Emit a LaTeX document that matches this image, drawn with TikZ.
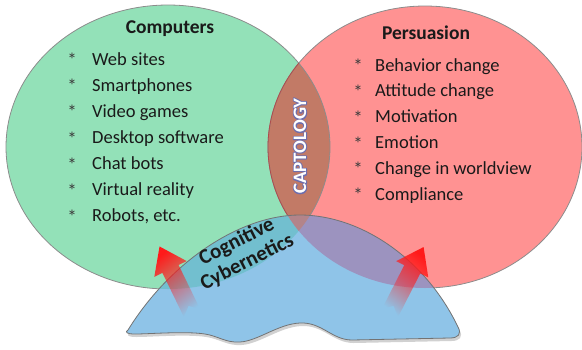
\documentclass[tikz,border=0pt]{standalone}
\usepackage{fontspec}
\setmainfont{Carlito}
\usetikzlibrary{fadings}
\definecolor{cgreen}{HTML}{93E1B8}
\definecolor{cred}{HTML}{FF9292}
\definecolor{clens}{HTML}{C27A66}
\definecolor{cblue}{HTML}{8FC4E8}
\definecolor{cteal}{HTML}{72BFCF}
\definecolor{cpurp}{HTML}{9C93BF}
\definecolor{ctext}{HTML}{1A1A1A}
\definecolor{carrow}{HTML}{FF1A1A}
\newcommand\blobpath{(128,330) .. controls (170,262) and (240,215) .. (300,215)
  .. controls (360,215) and (425,258) .. (458,327)
  .. controls (462,334) and (458,338) .. (450,338) -- (352,340)
  .. controls (332,340) and (322,322) .. (300,323)
  .. controls (278,324) and (258,341) .. (240,342)
  .. controls (226,343) and (218,336) .. (205,334)
  .. controls (185,331) and (150,334) .. (135,334)
  .. controls (126,334) and (125,332) .. (128,330) -- cycle}
\newcommand\greenpath{(168,147) ellipse [x radius=162, y radius=142]}
\newcommand\redpath{(425,147) ellipse [x radius=157, y radius=141]}
\newcommand\arrowpath{(0,-9) -- (49,-9) -- (49,-18) -- (74,0) -- (49,18) -- (49,9) -- (0,9) -- (8,0) -- cycle}
\newcommand\outlinedword[1]{\rlap{\special{pdf:literal direct 0.43 0.43 0.68 RG 1.8 w 1 j 2 Tr}#1\special{pdf:literal direct 0 Tr}}#1}
\begin{document}
\begin{tikzpicture}[x=1pt,y=-1pt,
  item/.style={anchor=base west, font=\fontsize{18.5}{20}\selectfont, text=ctext, inner sep=0pt},
  star/.style={font=\fontsize{19}{19}\selectfont, text=ctext!85, inner sep=0pt},
  title/.style={anchor=base, font=\bfseries\fontsize{19.5}{21}\selectfont, text=ctext, inner sep=0pt},
  cyb/.style={font=\bfseries\fontsize{21}{23}\selectfont, text=ctext, inner sep=0pt, align=center},
  capt/.style={font=\bfseries\fontsize{19}{20}\selectfont, inner sep=0pt, rotate=90},
  edge/.style={draw=black!45, line width=0.8pt}]
\useasboundingbox (0,0) rectangle (582,349);
% circles
\fill[cgreen] \greenpath;
\fill[cred] \redpath;
\begin{scope}
  \clip \greenpath;
  \fill[clens] \redpath;
\end{scope}
\draw[edge] \greenpath;
\draw[edge] \redpath;
\begin{scope}
  \clip \greenpath;
  \draw[draw=black!45!red!70, line width=0.8pt] \redpath;
\end{scope}
% blob
\fill[black, opacity=0.18] [shift={(1.5,3)}] \blobpath;
\fill[cblue] \blobpath;
\begin{scope}
  \clip \blobpath;
  \fill[cteal] \greenpath;
  \fill[cpurp] \redpath;
  \begin{scope}
    \clip \greenpath;
    \fill[clens!60!cpurp] \redpath;
  \end{scope}
\end{scope}
\draw[edge, draw=black!55] \blobpath;
% titles
\node[title] (tcomp) at (170,33) {Computers};
\node[title] (tpers) at (426,39) {Persuasion};
% lists
\foreach \t [count=\i from 0] in {Web sites, Smartphones, Video games, Desktop software, Chat bots, Virtual reality, {Robots, etc.}} {
  \node[star] (ls\i) at (72,{65+26.1*\i-5}) {*};
  \node[item] (lt\i) at (92,{65+26.1*\i}) {\t};
}
\foreach \t [count=\i from 0] in {Behavior change, Attitude change, Motivation, Emotion, Change in worldview, Compliance} {
  \node[star] (rs\i) at (358,{71+25.8*\i-5}) {*};
  \node[item] (rt\i) at (375,{71+25.8*\i}) {\t};
}
% captology
\node[capt, text=white] (capt) at (300,146) {\outlinedword{CAPTOLOGY}};
% cognitive cybernetics
\node[cyb, rotate=27] (cog) at (242,252) {Cognitive\\Cybernetics};
% arrows
\begin{scope}[shift={(192,313)}, rotate=116]
  \fill[carrow, path fading=west, fading angle=116] \arrowpath;
\end{scope}
\begin{scope}[shift={(390,313)}, rotate=63]
  \fill[carrow, path fading=west, fading angle=63] \arrowpath;
\end{scope}
\end{tikzpicture}
\end{document}
